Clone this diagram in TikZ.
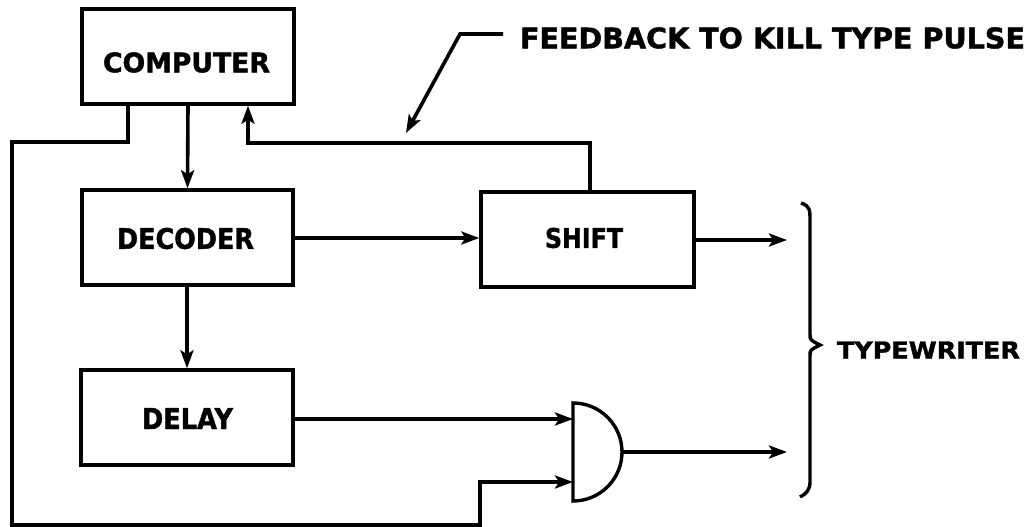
\documentclass[tikz,border=0pt]{standalone}
\usepackage{fontspec}
\setmainfont{DejaVu Sans}[BoldFeatures={FakeBold=1.5}]
\usetikzlibrary{arrows.meta}
\newcommand{\fitt}[3]{\resizebox{#1pt}{#2pt}{\bfseries #3}}
\begin{document}
\begin{tikzpicture}[x=1pt,y=-1pt,
  line width=3.6pt,
  blk/.style={draw,line width=3.4pt,inner sep=0pt},
  lbl/.style={inner sep=0pt,anchor=center},
  arr/.style={-{Stealth[length=18pt,width=13pt,inset=4pt]}},
  wire/.style={line width=3.6pt}]
\useasboundingbox (0,0) rectangle (1029,527);
% boxes
\node[blk,minimum width=212pt,minimum height=95pt] (comp) at (188,56.5) {};
\node[blk,minimum width=211pt,minimum height=95pt] (dec) at (187.5,237.5) {};
\node[blk,minimum width=212pt,minimum height=95pt] (del) at (187,417.5) {};
\node[blk,minimum width=213pt,minimum height=95pt] (shift) at (587.5,239.5) {};
% labels
\node[lbl] (tcomp) at (186.5,62.5) {\fitt{167}{20}{COMPUTER}};
\node[lbl] (tdec) at (185.5,238.5) {\fitt{137}{21}{DECODER}};
\node[lbl] (tdel) at (187.5,418.5) {\fitt{91}{21}{DELAY}};
\node[lbl] (tshift) at (584,238) {\fitt{78}{20}{SHIFT}};
\node[lbl] (tfb) at (772.5,38) {\fitt{505}{21}{FEEDBACK TO KILL TYPE PULSE}};
\node[lbl] (ttw) at (928.5,350) {\fitt{183}{17}{TYPEWRITER}};
% AND gate
\coordinate (gate) at (573,452);
\coordinate (g1) at (573,419);
\coordinate (g2) at (573,482);
\coordinate (gout) at (622,452);
\draw[line width=3.4pt] (573,403) arc[start angle=-90,end angle=90,radius=49] -- cycle;
% outputs
\coordinate (t1) at (787,240);
\coordinate (t2) at (787,452);
% connectors
\draw[wire,arr] (comp.south) -- (dec.north);
\draw[wire,arr] (dec.south -| 187,0) -- (del.north -| 187,0);
\draw[wire,arr] (dec.east |- 0,238) -- (shift.west |- 0,238);
\draw[wire,arr] (shift.east |- t1) -- (t1);
\draw[wire,arr] (del.east |- g1) -- (g1);
\draw[wire,arr] (gout) -- (t2);
\coordinate (fb) at (248,143);
\draw[wire,arr] (shift.north -| 590,0) |- (fb) -- (comp.south -| fb);
\coordinate (lp) at (128,142);
\draw[wire,arr] (comp.south -| lp) -- (lp) -- (12,142) -- (12,525) -- (480,525) -- (480,482) -- (g2);
% leader
\coordinate (ld) at (460,34);
\coordinate (ldtip) at (406,133);
\draw[wire,arr] (tfb.west) ++(-15,-4) -- (ld) -- (ldtip);
% brace
\draw[line width=3.4pt] (801,203) .. controls (810,206) and (810,210) .. (810,220) -- (810,334) .. controls (810,340) .. (820,345) .. controls (810,350) .. (810,356) -- (810,482) .. controls (810,490) and (806,494) .. (800,497);
\end{tikzpicture}
\end{document}
